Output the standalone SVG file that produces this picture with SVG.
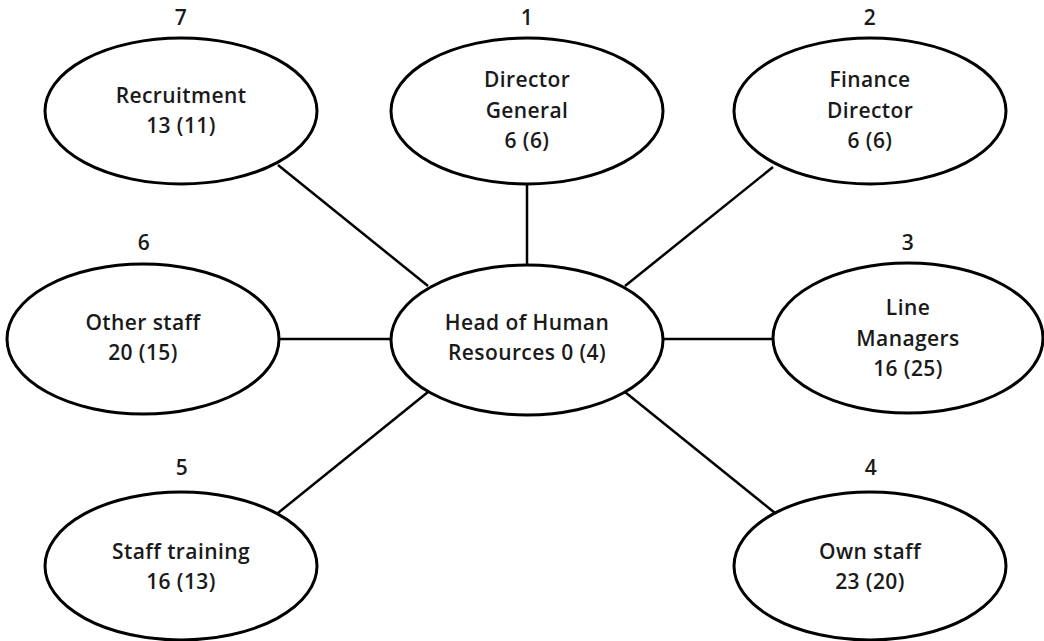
<svg xmlns="http://www.w3.org/2000/svg" width="1044" height="641" viewBox="0 0 1044 641">
  <style>
    .node ellipse { fill: #ffffff; stroke: #000000; stroke-width: 3; }
    .node text { font-family: "Open Sans", "Noto Sans", "DejaVu Sans", sans-serif; font-weight: 600; font-size: 21px; letter-spacing: 0.4px; fill: #1a1a1a; text-anchor: middle; }
    #connectors line { stroke: #000000; stroke-width: 2.5; }
  </style>
  <rect width="1044" height="641" fill="#ffffff"/>

  <!-- links from the central post to each contact -->
  <g id="connectors">
    <line x1="527" y1="184" x2="527" y2="265"/>
    <line x1="278" y1="165" x2="428" y2="286"/>
    <line x1="773" y1="167" x2="625" y2="286"/>
    <line x1="279" y1="339" x2="390" y2="339"/>
    <line x1="663" y1="339" x2="773" y2="339"/>
    <line x1="278" y1="513" x2="428" y2="392"/>
    <line x1="775" y1="513" x2="625" y2="392"/>
  </g>

  <g id="node-head" class="node">
    <ellipse cx="527" cy="340" rx="136" ry="75"/>
    <text x="527" y="330">Head of Human</text>
    <text x="527" y="360">Resources 0 (4)</text>
  </g>

  <g id="node-director-general" class="node">
    <text x="527" y="25">1</text>
    <ellipse cx="527" cy="111" rx="136" ry="73"/>
    <text x="527" y="87">Director</text>
    <text x="527" y="118">General</text>
    <text x="527" y="148">6 (6)</text>
  </g>

  <g id="node-finance-director" class="node">
    <text x="870" y="25">2</text>
    <ellipse cx="870" cy="111" rx="136" ry="73"/>
    <text x="870" y="87">Finance</text>
    <text x="870" y="118">Director</text>
    <text x="870" y="148">6 (6)</text>
  </g>

  <g id="node-line-managers" class="node">
    <text x="908" y="250">3</text>
    <ellipse cx="908" cy="338" rx="135" ry="75"/>
    <text x="908" y="315">Line</text>
    <text x="908" y="346">Managers</text>
    <text x="908" y="376">16 (25)</text>
  </g>

  <g id="node-own-staff" class="node">
    <text x="871" y="475">4</text>
    <ellipse cx="870" cy="566" rx="136" ry="74"/>
    <text x="870" y="559">Own staff</text>
    <text x="870" y="589">23 (20)</text>
  </g>

  <g id="node-staff-training" class="node">
    <text x="182" y="475">5</text>
    <ellipse cx="181" cy="566" rx="136" ry="74"/>
    <text x="181" y="559">Staff training</text>
    <text x="181" y="589">16 (13)</text>
  </g>

  <g id="node-other-staff" class="node">
    <text x="144" y="250">6</text>
    <ellipse cx="143" cy="339" rx="136" ry="75"/>
    <text x="143" y="330">Other staff</text>
    <text x="143" y="360">20 (15)</text>
  </g>

  <g id="node-recruitment" class="node">
    <text x="181" y="25">7</text>
    <ellipse cx="181" cy="111" rx="136" ry="73"/>
    <text x="181" y="103">Recruitment</text>
    <text x="181" y="133">13 (11)</text>
  </g>
</svg>
